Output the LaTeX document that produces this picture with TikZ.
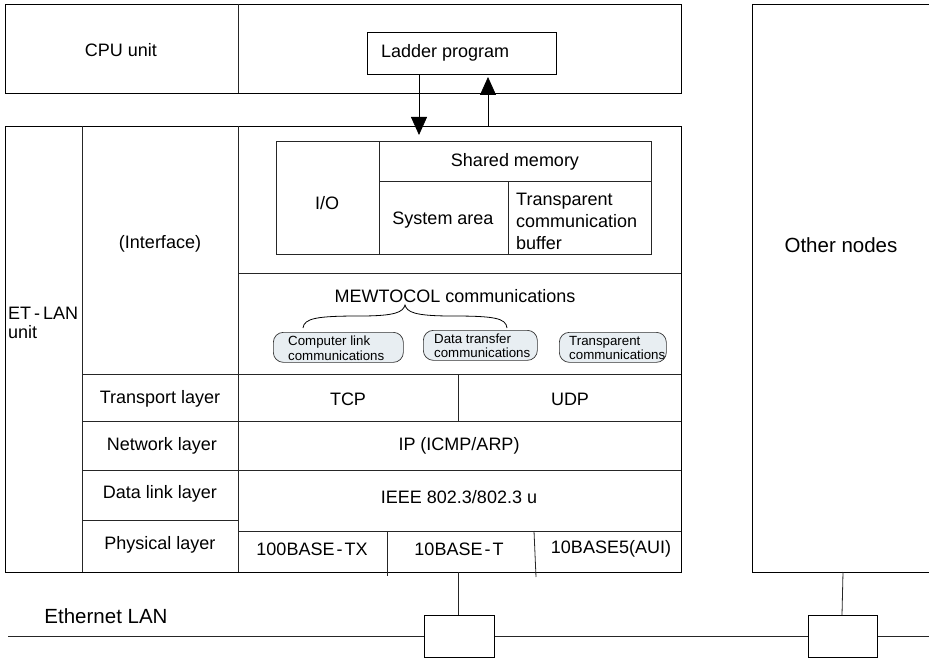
\documentclass[tikz,border=0pt]{standalone}
\usepackage{fontspec}
\setmainfont{Liberation Sans}
\usetikzlibrary{arrows.meta}
\newcommand\bigtxt{\fontsize{18}{21}\selectfont}
\newcommand\hugetxt{\fontsize{20.5}{24}\selectfont}
\newcommand\smalltxt{\fontsize{13.3}{14.5}\selectfont}
\definecolor{pillfill}{RGB}{232,238,242}
\begin{document}
\begin{tikzpicture}[x=1pt,y=-1pt,
  frame/.style={draw=black,line width=0.9pt},
  rule/.style={draw=black!85,line width=0.8pt},
  lbl/.style={font=\bigtxt,inner sep=0pt},
  pill/.style={draw=black!80,line width=0.7pt,fill=pillfill,rounded corners=10pt,
    anchor=north west,inner sep=0pt},
  ptxt/.style={font=\smalltxt,inner sep=0pt,align=left,anchor=west},
  arr/.style={draw=black,line width=0.8pt,-{Triangle[length=18pt,width=16pt]}},
  xcvr/.style={draw=black,line width=0.8pt,minimum width=70pt,minimum height=42pt,
    inner sep=0pt,anchor=north west}]
\useasboundingbox (0,0) rectangle (929,658);

% ---- CPU unit ----
\draw[frame] (5,4) rectangle (681,93);
\draw[rule] (238,4) -- (238,93);
\node[lbl] (cpu) at (121,50) {CPU unit};
\node[frame,anchor=north west,minimum width=189pt,minimum height=42pt,inner sep=0pt]
  (ladder) at (367,32) {};
\node[lbl,anchor=west] (laddertxt) at (381,53) {Ladder program};

% ---- ET-LAN unit frame and grid ----
\draw[frame] (5,126) rectangle (681,572);
\draw[rule] (82,126) -- (82,572);
\draw[rule] (238,126) -- (238,572);
\draw[rule] (238,273) -- (681,273);
\draw[rule] (82,374) -- (681,374);
\draw[rule] (82,421) -- (681,421);
\draw[rule] (82,470) -- (681,470);
\draw[rule] (82,520) -- (238,520);
\draw[rule] (238,531) -- (681,531);
\draw[rule] (458,374) -- (458,421);
\draw[rule] (387,531) -- (387,576);
\draw[rule] (534,531) -- (536,577);

% arrows between ladder program and the unit
\coordinate (dnTip) at (419,135);
\coordinate (upFoot) at (488,126);
\coordinate (upTip) at (488,77);
\draw[arr] (ladder.south -| dnTip) -- (dnTip);
\draw[arr] (upFoot) -- (upTip);

% shared memory block
\draw[rule] (276,141) rectangle (651,254);
\draw[rule] (379,141) -- (379,254);
\draw[rule] (379,181) -- (651,181);
\draw[rule] (508,181) -- (508,254);
\node[lbl] (io) at (327,203) {I/O};
\node[lbl] (shm) at (515,162) {Shared memory};
\node[lbl] (sysarea) at (443,220) {System area};
\node[lbl,align=left,anchor=west,font=\fontsize{18}{22}\selectfont] (tbuf) at (516,221)
  {Transparent\\communication\\buffer};

% left column labels
\node[lbl] (iface) at (160,244) {(Interface)};
\node[lbl,align=left,anchor=west,font=\fontsize{18}{19.5}\selectfont] (etlan) at (8,323)
  {ET\hspace{3pt}-\hspace{3pt}LAN\\unit};

% MEWTOCOL
\node[lbl] (mew) at (455,296) {MEWTOCOL communications};
\draw[draw=black,line width=0.8pt]
  (303,328) .. controls (304,318) and (318,316) .. (360,316)
  .. controls (396,316) and (403,312) .. (405,305)
  .. controls (407,312) and (414,316) .. (452,316)
  .. controls (494,316) and (506,318) .. (507,328);
\node[pill,minimum width=130pt,minimum height=30pt] (p1) at (273,332) {};
\node[ptxt] at (288,348) {Computer link\\communications};
\node[pill,minimum width=114pt,minimum height=30pt] (p2) at (423,330) {};
\node[ptxt] at (434,346) {Data transfer\\communications};
\node[pill,minimum width=107pt,minimum height=30pt] (p3) at (559,332) {};
\node[ptxt] at (569,348) {Transparent\\communications};

% layer rows
\node[lbl] (tl) at (160,399) {Transport layer};
\node[lbl] (tcp) at (348,399) {TCP};
\node[lbl] (udp) at (570,399) {UDP};
\node[lbl] (nl) at (162,446) {Network layer};
\node[lbl] (ip) at (459,446) {IP (ICMP/ARP)};
\node[lbl] (dl) at (160,494) {Data link layer};
\node[lbl] (ieee) at (459,497) {IEEE 802.3/802.3 u};
\node[lbl] (pl) at (160,545) {Physical layer};
\node[lbl] (tx) at (312,549) {100BASE\hspace{2pt}-\hspace{2pt}TX};
\node[lbl] (tt) at (459,549) {10BASE\hspace{2pt}-\hspace{2pt}T};
\node[lbl] (aui) at (611,549) {10BASE5(AUI)};

% ---- other nodes ----
\draw[frame] (752,4) -- (929,4);
\draw[frame] (752,4) -- (752,572) -- (929,572);
\node[lbl,font=\hugetxt] (other) at (841,245) {Other nodes};

% ---- Ethernet LAN ----
\node[lbl,font=\hugetxt] (lan) at (106,616) {Ethernet LAN};
\node[xcvr] (x1) at (424,615) {};
\node[xcvr,minimum width=69pt] (x2) at (808,615) {};
\coordinate (etBot) at (458,572);
\coordinate (onBot) at (843,572);
\coordinate (lanL) at (8,636);
\coordinate (lanR) at (929,636);
\draw[rule] (etBot) -- (etBot |- x1.north);
\draw[rule] (onBot) -- (842,615);
\draw[rule] (lanL) -- (lanL -| x1.west);
\draw[rule] (x1.east |- lanL) -- (x2.west |- lanL);
\draw[rule] (x2.east |- lanL) -- (lanR);
\end{tikzpicture}
\end{document}
